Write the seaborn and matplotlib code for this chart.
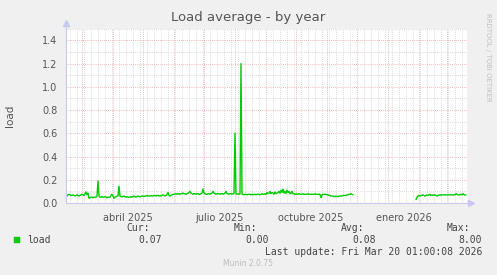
import numpy as np
import pandas as pd
import matplotlib
matplotlib.use("Agg")
import matplotlib.pyplot as plt
import matplotlib.dates as mdates
import seaborn as sns

# ---------------- data ----------------
title = "Load average - by year"
ylabel = "load"
series_name = "load"
month_labels = ["abril 2025", "julio 2025", "octubre 2025", "enero 2026"]
month_label_dates = ["2025-04-16", "2025-07-16", "2025-10-16", "2026-01-17"]
view_start = "2025-02-13"
view_end = "2026-03-21"

seg1_start = "2025-02-13"
seg1_values = [
    0.055, 0.06, 0.07, 0.075, 0.07, 0.065, 0.065, 0.07, 0.065,
    0.06, 0.065, 0.07, 0.065, 0.06, 0.065, 0.07, 0.075, 0.07, 0.065,
    0.08, 0.095, 0.07, 0.085, 0.04,
    0.045, 0.05, 0.05, 0.045, 0.05, 0.05, 0.05, 0.06,
    0.19,
    0.06, 0.05, 0.05, 0.055, 0.05, 0.05, 0.055, 0.05, 0.045, 0.05, 0.05, 0.05,
    0.065, 0.075, 0.06, 0.04, 0.05, 0.055, 0.06, 0.06,
    0.145,
    0.06, 0.055, 0.055, 0.055, 0.06, 0.055, 0.05, 0.055, 0.05, 0.05, 0.05,
    0.055, 0.05, 0.055, 0.06, 0.055, 0.05, 0.055, 0.06, 0.055, 0.055,
    0.055, 0.06, 0.06, 0.055, 0.06, 0.06, 0.065, 0.06, 0.06, 0.06, 0.065,
    0.06, 0.06, 0.065, 0.065, 0.06, 0.065, 0.065, 0.06, 0.065, 0.06, 0.065,
    0.07, 0.065, 0.06,
    0.065, 0.075, 0.09, 0.065, 0.06, 0.065, 0.07, 0.075, 0.075,
    0.075, 0.08, 0.075, 0.08, 0.08, 0.075, 0.08, 0.08, 0.085, 0.08, 0.08,
    0.075, 0.08, 0.085, 0.09,
    0.1,
    0.085, 0.08, 0.075, 0.08, 0.08, 0.075, 0.08, 0.08, 0.075, 0.075, 0.08, 0.085,
    0.12,
    0.085, 0.08, 0.075, 0.075, 0.08, 0.08, 0.075, 0.08, 0.085,
    0.1,
    0.085, 0.08, 0.075, 0.08, 0.08, 0.08, 0.075, 0.08, 0.08, 0.075, 0.08, 0.085,
    0.1,
    0.08, 0.08, 0.075, 0.08, 0.08, 0.075, 0.08, 0.08,
    0.6,
    0.08, 0.075, 0.08, 0.075, 0.08,
    1.2,
    0.075, 0.075, 0.07, 0.075, 0.075, 0.07, 0.075, 0.075, 0.075, 0.07, 0.075,
    0.07, 0.075, 0.075, 0.07, 0.075, 0.075, 0.075, 0.07, 0.075, 0.08, 0.075, 0.075,
    0.08, 0.075, 0.09, 0.08, 0.085, 0.1, 0.08, 0.09, 0.085, 0.075, 0.095,
    0.08, 0.085, 0.09, 0.1, 0.085, 0.11, 0.09, 0.12, 0.085, 0.1, 0.08,
    0.11, 0.09, 0.1, 0.08, 0.085, 0.1, 0.08, 0.08, 0.075,
    0.08, 0.075, 0.075, 0.08, 0.075, 0.075, 0.075, 0.08, 0.075, 0.075, 0.075,
    0.075, 0.08, 0.075, 0.075, 0.075, 0.075, 0.075, 0.075, 0.08, 0.075, 0.075,
    0.075, 0.075, 0.075,
    0.045,
    0.07, 0.075, 0.075, 0.075, 0.075, 0.07, 0.07, 0.065, 0.065,
    0.06, 0.06, 0.06, 0.055, 0.055, 0.06, 0.055, 0.055, 0.06, 0.06, 0.06,
    0.06, 0.065, 0.065, 0.065,
    0.065, 0.07, 0.07, 0.075, 0.075, 0.08, 0.075, 0.07,
]

seg2_start = "2026-01-29"
seg2_values = [
    0.03, 0.05, 0.06, 0.065, 0.06, 0.065, 0.065, 0.07, 0.065, 0.06,
    0.065, 0.07, 0.065, 0.07, 0.075, 0.065, 0.07, 0.065, 0.07, 0.07,
    0.065, 0.06, 0.065, 0.07, 0.065, 0.07, 0.07, 0.07, 0.07, 0.07,
    0.07, 0.07, 0.07, 0.07, 0.07, 0.07, 0.07, 0.07, 0.07, 0.07,
    0.08, 0.075, 0.07, 0.07, 0.07, 0.075, 0.07, 0.08, 0.07, 0.07, 0.07,
]

legend_headers = ["Cur:", "Min:", "Avg:", "Max:"]
legend_values = ["0.07", "0.00", "0.08", "8.00"]
last_update = "Last update: Fri Mar 20 01:00:08 2026"
footer = "Munin 2.0.75"
watermark = "RRDTOOL / TOBI OETIKER"

# ---------------- build frames ----------------
df1 = pd.DataFrame({"date": pd.date_range(seg1_start, periods=len(seg1_values), freq="D"),
                    "value": seg1_values})
df2 = pd.DataFrame({"date": pd.date_range(seg2_start, periods=len(seg2_values), freq="D"),
                    "value": seg2_values})

# ---------------- figure ----------------
W, H = 497, 275
BG = "#F0F0F0"
TXT = "#555555"
LEG = "#444444"
GREEN = "#00CC00"
AXC = "#C8C8F0"

sns.set_style("white")
plt.rcParams["font.family"] = ["DejaVu Sans"]

fig = plt.figure(figsize=(W / 100, H / 100), dpi=100, facecolor=BG)

px_l, px_r, px_t, px_b = 66, 467, 28.7, 203
ax = fig.add_axes([px_l / W, (H - px_b) / H, (px_r - px_l) / W, (px_b - px_t) / H])
ax.set_facecolor("white")

ax.set_xlim(pd.Timestamp(view_start), pd.Timestamp(view_end))
ax.set_ylim(0, 1.5)

# grid
ax.xaxis.set_major_locator(mdates.MonthLocator())
ax.xaxis.set_minor_locator(mdates.WeekdayLocator(byweekday=mdates.MO))
ax.yaxis.set_major_locator(matplotlib.ticker.MultipleLocator(0.2))
ax.yaxis.set_minor_locator(matplotlib.ticker.MultipleLocator(0.1))
ax.grid(which="minor", color="#D0D0D0", linestyle=(0, (1, 1.5)), linewidth=0.6)
ax.grid(which="major", color="#EBA4A4", linestyle=(0, (1, 1.5)), linewidth=0.6)
ax.set_axisbelow(True)

sns.lineplot(data=df1, x="date", y="value", ax=ax, color=GREEN, linewidth=1.0)
sns.lineplot(data=df2, x="date", y="value", ax=ax, color=GREEN, linewidth=1.0)

ax.set_xlabel("")
ax.set_ylabel(ylabel, color=TXT, fontsize=7.5, labelpad=20)
ax.xaxis.set_major_formatter(matplotlib.ticker.NullFormatter())
ax.tick_params(axis="both", which="both", length=0)
ax.tick_params(axis="y", labelsize=7, labelcolor=TXT, pad=6)
ax.yaxis.set_major_formatter(matplotlib.ticker.FormatStrFormatter("%.1f"))

for s in ax.spines.values():
    s.set_visible(False)

# axis lines with arrows
ax.plot([0, 0], [0, 1.0 + 5.5 / (px_b - px_t)], transform=ax.transAxes, color=AXC,
        linewidth=0.8, clip_on=False)
ax.plot([0], [1.0 + 5.5 / (px_b - px_t)], transform=ax.transAxes, marker="^", color=AXC,
        markersize=5, clip_on=False)
ax.plot([0, 1.0 + 4 / (px_r - px_l)], [0, 0], transform=ax.transAxes, color=AXC,
        linewidth=0.8, clip_on=False)
ax.plot([1.0 + 4 / (px_r - px_l)], [0], transform=ax.transAxes, marker=">", color=AXC,
        markersize=5, clip_on=False)

# month labels
for lbl, d in zip(month_labels, month_label_dates):
    ax.text(pd.Timestamp(d), -0.055, lbl, ha="center", va="top", fontsize=7, color=TXT,
            transform=ax.get_xaxis_transform())

# title
fig.text(248 / W, 1 - 18 / H, title, ha="center", va="center", fontsize=9.5, color=TXT)
# watermark
fig.text(488 / W, 1 - 57 / H, watermark, ha="center", va="center", rotation=270,
         fontsize=5, color="#C0C0C0")

# legend / stats
mono = "DejaVu Sans Mono"
fig.patches.append(plt.Rectangle((14 / W, 1 - 242 / H), 5 / W, 5 / H,
                                 transform=fig.transFigure, color=GREEN))
fig.text(27 / W, 1 - 240 / H, series_name, ha="left", va="center", fontsize=7,
         family=mono, color=LEG)
head_right = [150, 257, 364, 470]
val_right = [162, 269, 376, 482]
for hdr, xr in zip(legend_headers, head_right):
    fig.text(xr / W, 1 - 228 / H, hdr, ha="right", va="center", fontsize=7,
             family=mono, color=LEG)
for v, xr in zip(legend_values, val_right):
    fig.text(xr / W, 1 - 240 / H, v, ha="right", va="center", fontsize=7,
             family=mono, color=LEG)
fig.text(482 / W, 1 - 252 / H, last_update, ha="right", va="center", fontsize=7,
         family=mono, color=LEG)
fig.text(248 / W, 1 - 264 / H, footer, ha="center", va="center", fontsize=5.5,
         color="#BBBBBB")

fig.savefig("out.png", dpi=100, facecolor=BG)
